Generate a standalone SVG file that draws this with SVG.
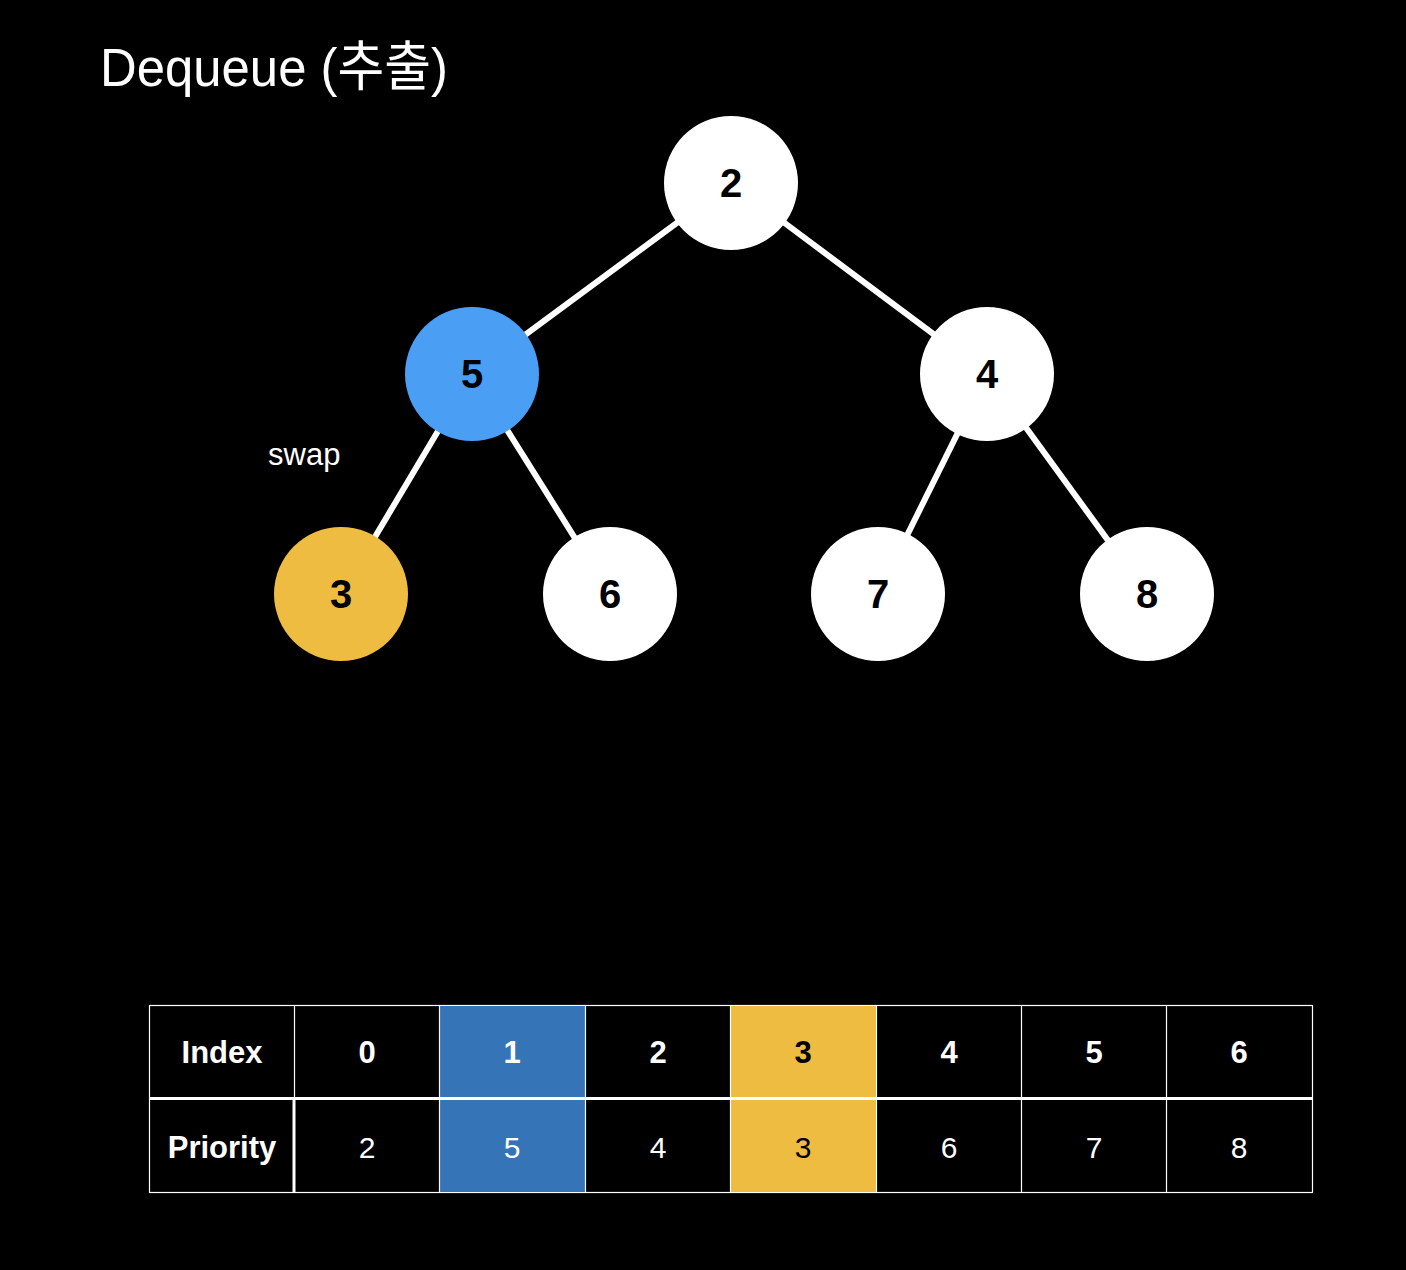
<svg xmlns="http://www.w3.org/2000/svg" width="1406" height="1270" viewBox="0 0 1406 1270">
<style>
.n{stroke:none}
.nt{font-family:"Liberation Sans",Arial,sans-serif;font-weight:bold;font-size:40px;fill:#000;text-anchor:middle}
.e{stroke:#fff;stroke-width:6;fill:none}
.c{stroke:#fff;stroke-width:1.2}
.th{font-family:"Liberation Sans",Arial,sans-serif;font-weight:bold;font-size:31px;fill:#fff;text-anchor:middle}
.td{font-family:"Liberation Sans",Arial,sans-serif;font-size:30px;fill:#fff;text-anchor:middle}
</style>
<rect width="1406" height="1270" fill="#000"/>
<text x="100" y="86" font-family="'Liberation Sans','Noto Sans CJK KR',Arial,sans-serif" font-size="54" fill="#fff" textLength="348" lengthAdjust="spacingAndGlyphs">Dequeue (추출)</text>
<g id="connectors">
<line class="e" x1="731" y1="183" x2="472" y2="374"/>
<line class="e" x1="731" y1="183" x2="987" y2="374"/>
<line class="e" x1="472" y1="374" x2="341" y2="594"/>
<line class="e" x1="472" y1="374" x2="610" y2="594"/>
<line class="e" x1="987" y1="374" x2="878" y2="594"/>
<line class="e" x1="987" y1="374" x2="1147" y2="594"/>
</g>
<g id="node-2"><circle cx="731" cy="183" r="67" fill="#fff"/><text class="nt" x="731" y="197">2</text></g>
<g id="node-5"><circle cx="472" cy="374" r="67" fill="#4A9FF5"/><text class="nt" x="472" y="388">5</text></g>
<g id="node-4"><circle cx="987" cy="374" r="67" fill="#fff"/><text class="nt" x="987" y="388">4</text></g>
<g id="node-3"><circle cx="341" cy="594" r="67" fill="#EDBC40"/><text class="nt" x="341" y="608">3</text></g>
<g id="node-6"><circle cx="610" cy="594" r="67" fill="#fff"/><text class="nt" x="610" y="608">6</text></g>
<g id="node-7"><circle cx="878" cy="594" r="67" fill="#fff"/><text class="nt" x="878" y="608">7</text></g>
<g id="node-8"><circle cx="1147" cy="594" r="67" fill="#fff"/><text class="nt" x="1147" y="608">8</text></g>
<text x="268" y="465" font-family="'Liberation Sans',Arial,sans-serif" font-size="31" fill="#fff">swap</text>
<g id="table">
<rect x="149.5" y="1005.5" width="1163" height="187" fill="#000" stroke="#fff" stroke-width="1.2"/>
<rect x="440" y="1006" width="145" height="186" fill="#3574B6"/>
<rect x="731" y="1006" width="145" height="186" fill="#EDBC40"/>
<g class="c">
<line x1="294.5" y1="1006" x2="294.5" y2="1098"/>
<line x1="439.5" y1="1006" x2="439.5" y2="1192"/>
<line x1="585.5" y1="1006" x2="585.5" y2="1192"/>
<line x1="730.5" y1="1006" x2="730.5" y2="1192"/>
<line x1="876.5" y1="1006" x2="876.5" y2="1192"/>
<line x1="1021.5" y1="1006" x2="1021.5" y2="1192"/>
<line x1="1166.5" y1="1006" x2="1166.5" y2="1192"/>
</g>
<line x1="149" y1="1098.5" x2="1313" y2="1098.5" stroke="#fff" stroke-width="3"/>
<line x1="294" y1="1098" x2="294" y2="1192" stroke="#fff" stroke-width="3"/>
<text class="th" x="222" y="1063">Index</text>
<text class="th" x="367" y="1063">0</text>
<text class="th" x="512" y="1063">1</text>
<text class="th" x="658" y="1063">2</text>
<text class="th" x="803" y="1063" style="fill:#000">3</text>
<text class="th" x="949" y="1063">4</text>
<text class="th" x="1094" y="1063">5</text>
<text class="th" x="1239" y="1063">6</text>
<text class="th" x="222" y="1158">Priority</text>
<text class="td" x="367" y="1158">2</text>
<text class="td" x="512" y="1158">5</text>
<text class="td" x="658" y="1158">4</text>
<text class="td" x="803" y="1158" style="fill:#000">3</text>
<text class="td" x="949" y="1158">6</text>
<text class="td" x="1094" y="1158">7</text>
<text class="td" x="1239" y="1158">8</text>
</g>
</svg>
